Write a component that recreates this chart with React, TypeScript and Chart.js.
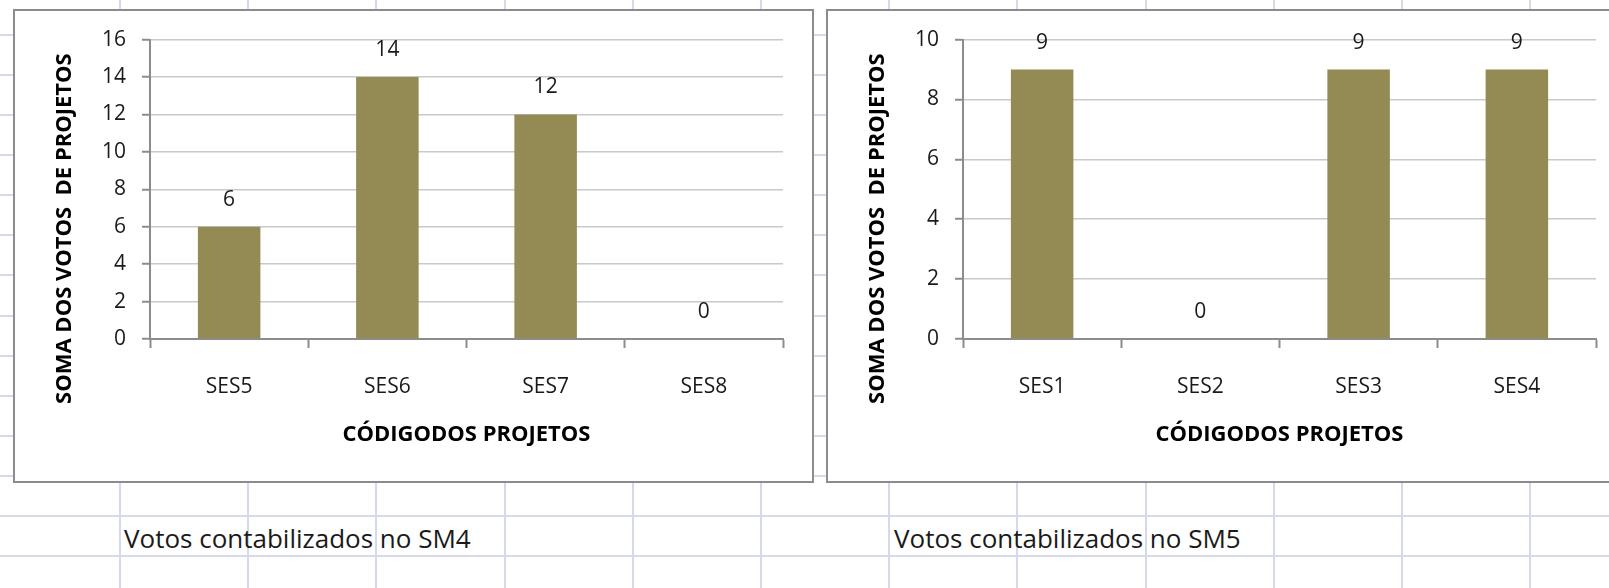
import React, { useEffect, useRef } from "react";
import { Chart, registerables } from "chart.js";
Chart.register(...registerables);

// ---- data ----
const sm4Categories = ["SES5", "SES6", "SES7", "SES8"];
const sm4Values = [6, 14, 12, 0];
const sm4Ticks = { max: 16, step: 2 };

const sm5Categories = ["SES1", "SES2", "SES3", "SES4"];
const sm5Values = [9, 0, 9, 9];
const sm5Ticks = { max: 10, step: 2 };

const yTitle = "SOMA DOS VOTOS  DE PROJETOS";
const xTitle = "CÓDIGODOS PROJETOS";
const captionSM4 = "Votos contabilizados no SM4";
const captionSM5 = "Votos contabilizados no SM5";

// ---- styles ----
const FONT = "'Open Sans', 'Noto Sans', sans-serif";
const BAR = "#948A54";
const TEXT = "#1a1a1a";
const AXIS = "#8c8c8c";
const GRID = "#c9c9c9";
const SHEET = "#d6d9ec";

const overlayPlugin = {
  id: "overlay",
  afterDatasetsDraw(chart: any) {
    const { ctx, chartArea } = chart;
    const xs = chart.scales.x;
    const ys = chart.scales.y;
    const data = chart.data.datasets[0].data as number[];
    ctx.save();
    ctx.font = `21px ${FONT}`;
    ctx.fillStyle = TEXT;
    ctx.textAlign = "center";
    ctx.textBaseline = "middle";
    data.forEach((v, i) => {
      ctx.fillText(String(v), xs.getPixelForValue(i), ys.getPixelForValue(v) - 27);
    });
    ctx.font = `bold 22px ${FONT}`;
    ctx.fillStyle = "#000";
    ctx.fillText(xTitle, (chartArea.left + chartArea.right) / 2, chartArea.bottom + 96);
    ctx.translate(chartArea.left - 85, chartArea.top + 189);
    ctx.rotate(-Math.PI / 2);
    ctx.fillText(yTitle, 0, 0);
    ctx.restore();
  },
};

function BarChart({ labels, values, ticks }: { labels: string[]; values: number[]; ticks: { max: number; step: number } }) {
  const ref = useRef<HTMLCanvasElement | null>(null);
  useEffect(() => {
    if (!ref.current) return;
    const chart = new Chart(ref.current, {
      type: "bar",
      data: {
        labels,
        datasets: [
          {
            data: values,
            backgroundColor: BAR,
            borderWidth: 0,
            categoryPercentage: 1,
            barPercentage: 0.395,
          },
        ],
      },
      options: {
        animation: false,
        responsive: false,
        maintainAspectRatio: false,
        devicePixelRatio: 1,
        layout: { padding: { top: 26, right: 29, left: 0, bottom: 0 } },
        plugins: { legend: { display: false }, tooltip: { enabled: false }, title: { display: false } },
        scales: {
          x: {
            grid: { display: true, drawOnChartArea: false, drawTicks: true, tickLength: 9, tickColor: AXIS, tickWidth: 2, offset: true },
            border: { display: true, color: AXIS, width: 2 },
            ticks: { color: TEXT, font: { family: FONT, size: 21 }, padding: 26, maxRotation: 0, autoSkip: false },
            afterFit: (s: any) => {
              s.height = 142;
            },
          },
          y: {
            min: 0,
            max: ticks.max,
            ticks: { stepSize: ticks.step, color: TEXT, font: { family: FONT, size: 21 }, padding: 16 },
            grid: { color: GRID, lineWidth: 1.5, tickLength: 8, tickColor: AXIS, tickWidth: 2 },
            border: { display: true, color: AXIS, width: 2 },
            afterFit: (s: any) => {
              s.width = 135;
            },
          },
        },
      },
      plugins: [overlayPlugin],
    } as any);
    return () => chart.destroy();
  }, []);
  return <canvas ref={ref} width={797} height={470} style={{ display: "block", width: 797, height: 470 }} />;
}

export default function App() {
  const cols: number[] = [];
  for (let i = 0; i < 12; i++) cols.push(120 + i * 128.2);
  const rows: number[] = [];
  for (let i = 0; i < 14; i++) rows.push(35 + i * 40.08);
  const captionStyle: React.CSSProperties = { position: "absolute", top: 521, fontSize: 26, lineHeight: "34px", color: TEXT, whiteSpace: "nowrap" };
  return (
    <div style={{ position: "fixed", left: 0, top: 0, width: 1609, height: 588, background: "#fff", overflow: "hidden", fontFamily: FONT }}>
      {cols.map((x, i) => (
        <div key={"c" + i} style={{ position: "absolute", left: Math.round(x) - 1, top: 0, width: 2, height: 588, background: SHEET }} />
      ))}
      {rows.map((y, i) => (
        <div key={"r" + i} style={{ position: "absolute", left: 0, top: Math.round(y) - 1, width: 1609, height: 2, background: SHEET }} />
      ))}
      <div style={{ ...captionStyle, left: 124 }}>{captionSM4}</div>
      <div style={{ ...captionStyle, left: 894 }}>{captionSM5}</div>
      <div style={{ position: "absolute", left: 13, top: 9, width: 801, height: 474, boxSizing: "border-box", border: `2px solid ${AXIS}`, background: "#fff" }}>
        <BarChart labels={sm4Categories} values={sm4Values} ticks={sm4Ticks} />
      </div>
      <div style={{ position: "absolute", left: 826, top: 9, width: 801, height: 474, boxSizing: "border-box", border: `2px solid ${AXIS}`, background: "#fff" }}>
        <BarChart labels={sm5Categories} values={sm5Values} ticks={sm5Ticks} />
      </div>
    </div>
  );
}
